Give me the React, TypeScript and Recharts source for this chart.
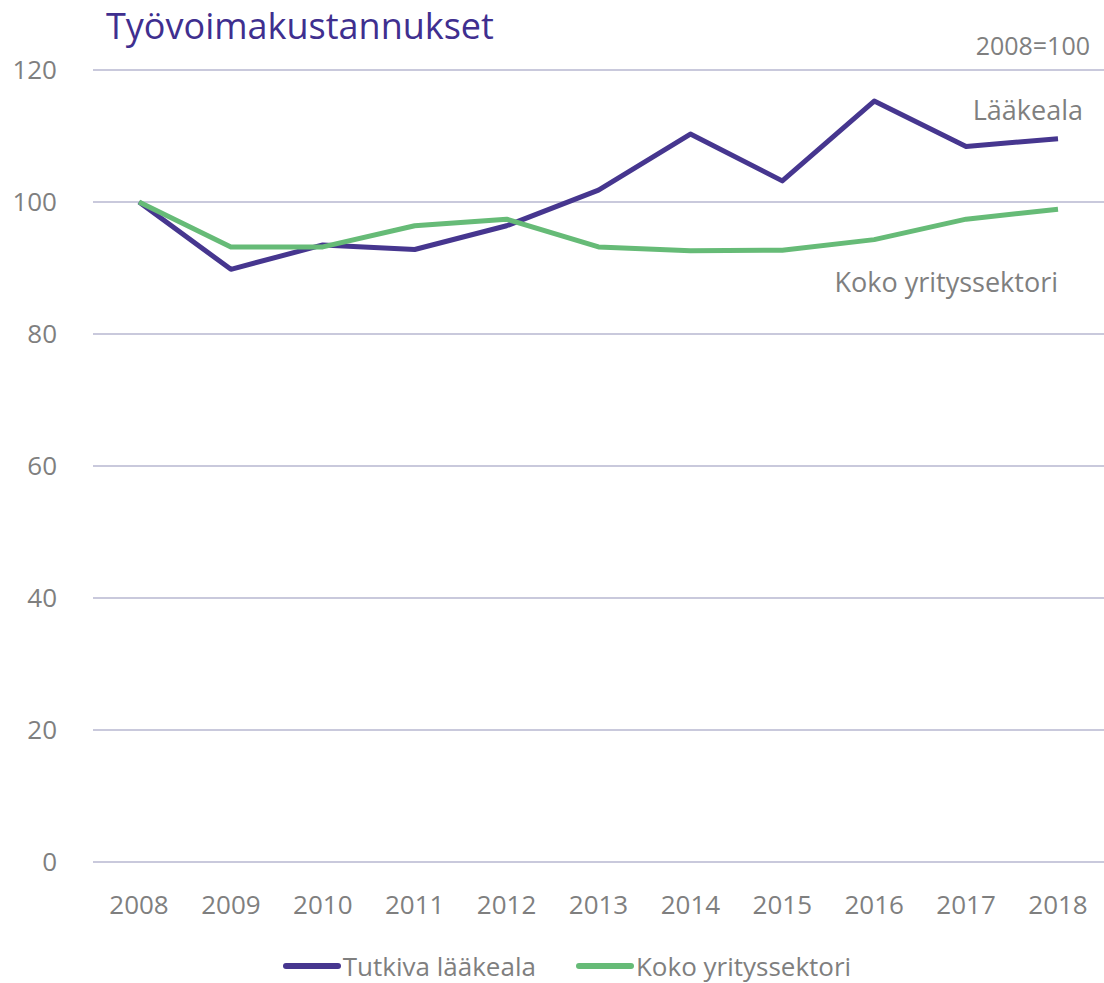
import React from 'react';
import {
  LineChart,
  Line,
  XAxis,
  YAxis,
  CartesianGrid,
  Legend,
  Customized
} from 'recharts';

const years = ['2008', '2009', '2010', '2011', '2012', '2013', '2014', '2015', '2016', '2017', '2018'];
const laakeala = [100, 89.8, 93.5, 92.8, 96.4, 101.8, 110.3, 103.2, 115.3, 108.4, 109.6];
const kokoSektori = [100, 93.2, 93.2, 96.4, 97.4, 93.2, 92.6, 92.7, 94.3, 97.4, 98.9];
const yTicks = [0, 20, 40, 60, 80, 100, 120];

const data = years.map((year, i) => ({
  year,
  laakeala: laakeala[i],
  koko: kokoSektori[i]
}));

const PURPLE = '#46368f';
const GREEN = '#66bb77';
const GREY = '#7f7f7f';
const FONT = '"Open Sans", "Noto Sans", sans-serif';

const LegendContent = () => (
  <div
    style={{
      display: 'flex',
      justifyContent: 'center',
      alignItems: 'center',
      gap: 40,
      fontFamily: FONT,
      fontSize: 26,
      color: GREY,
      paddingTop: 16,
      paddingLeft: 30
    }}
  >
    {[
      { label: 'Tutkiva lääkeala', color: PURPLE },
      { label: 'Koko yrityssektori', color: GREEN }
    ].map((it) => (
      <div key={it.label} style={{ display: 'flex', alignItems: 'center' }}>
        <span
          style={{
            display: 'inline-block',
            width: 58,
            height: 6,
            borderRadius: 3,
            background: it.color,
            marginRight: 2
          }}
        />
        <span>{it.label}</span>
      </div>
    ))}
  </div>
);

const Annotations = () => (
  <g fontFamily={FONT}>
    <text x={106} y={39} fontSize={36} fill="#3f2f8f">
      Työvoimakustannukset
    </text>
    <text x={1090} y={55} fontSize={25} fill={GREY} textAnchor="end">
      2008=100
    </text>
    <text x={1083} y={120} fontSize={27} fill={GREY} textAnchor="end">
      Lääkeala
    </text>
    <text x={1058} y={292} fontSize={27} fill={GREY} textAnchor="end">
      Koko yrityssektori
    </text>
  </g>
);

export default function App() {
  return (
    <div style={{ position: 'absolute', left: 0, top: 0, background: '#fff' }}>
      <LineChart
        width={1104}
        height={983}
        data={data}
        margin={{ top: 70, right: 0, left: 0, bottom: 0 }}
      >
        <CartesianGrid stroke="#c9c9dc" strokeWidth={2} vertical={false} />
        <XAxis
          dataKey="year"
          axisLine={false}
          tickLine={false}
          padding={{ left: 46, right: 46 }}
          height={70}
          tickMargin={28}
          tick={{ fill: GREY, fontSize: 26, fontFamily: FONT }}
        />
        <YAxis
          domain={[0, 120]}
          ticks={yTicks}
          width={93}
          axisLine={false}
          tickLine={false}
          tickMargin={30}
          tick={{ fill: GREY, fontSize: 26, fontFamily: FONT }}
        />
        <Legend verticalAlign="bottom" height={51} content={<LegendContent />} />
        <Line
          type="linear"
          dataKey="laakeala"
          stroke={PURPLE}
          strokeWidth={5}
          strokeLinejoin="round"
          dot={false}
          isAnimationActive={false}
        />
        <Line
          type="linear"
          dataKey="koko"
          stroke={GREEN}
          strokeWidth={5}
          strokeLinejoin="round"
          dot={false}
          isAnimationActive={false}
        />
        <Customized component={Annotations} />
      </LineChart>
    </div>
  );
}
